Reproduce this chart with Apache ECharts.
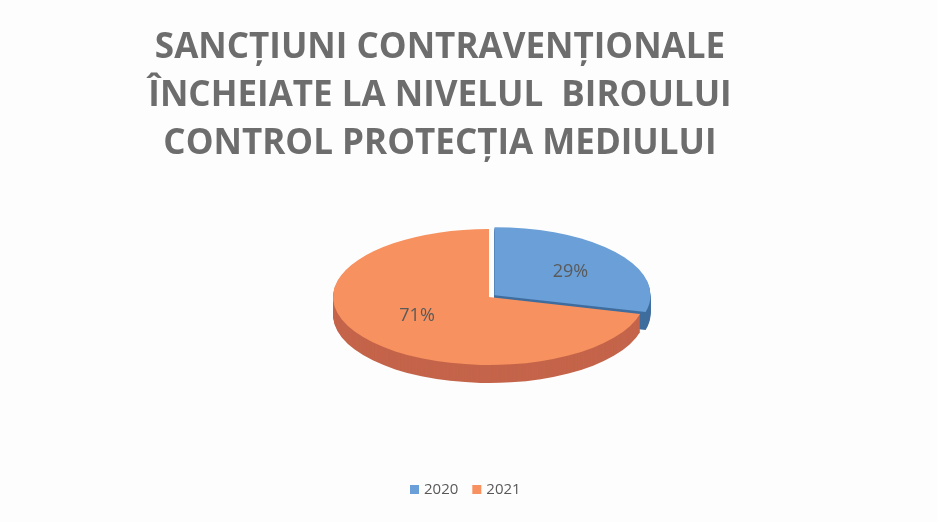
<!DOCTYPE html>
<html lang="ro">
<head>
    <meta charset="UTF-8">
    <title>Sancțiuni contravenționale</title>
    <style>
        html,body{
            margin: 0;
            width: 100%;
            height: 100%;
            background: #fdfdfd;
        }
        #chartmain{
            width: 937px;
            height: 522px;
        }
    </style>
</head>
<body>
<div id="chartmain"></div>
<script src="https://cdn.jsdelivr.net/npm/echarts@6/dist/echarts.min.js"></script>
<script type="text/javascript">
    // date
    var categories = ['2020', '2021'];
    var values = [29, 71];
    var titleLines = ['SANCȚIUNI CONTRAVENȚIONALE', 'ÎNCHEIATE LA NIVELUL  BIROULUI', 'CONTROL PROTECȚIA MEDIULUI'];

    var topColors = ['#6A9FD8', '#F7915F'];
    var sideColors = ['#3F6D9E', '#C4644A'];

    // geometria "3D" a pie-ului
    var CX = 489, CY = 297, RX = 156, RY = 68, DEPTH = 18;
    var SCALE = RY / RX;
    var EXPLODE = [7, 0];

    var total = values.reduce(function (a, b) { return a + b; }, 0);

    function sliceAngles(i) {
        var before = 0;
        for (var k = 0; k < i; k++) before += values[k];
        var start = -Math.PI / 2 + 2 * Math.PI * before / total;
        var end = start + 2 * Math.PI * values[i] / total;
        return [start, end];
    }

    function sliceOffset(i) {
        var a = sliceAngles(i);
        var mid = (a[0] + a[1]) / 2;
        return [EXPLODE[i] * Math.cos(mid), EXPLODE[i] * Math.sin(mid) * SCALE];
    }

    // peretii laterali (se deseneaza primii)
    var sideSeries = {
        type: 'custom',
        coordinateSystem: 'none',
        silent: true,
        data: values.map(function (v, i) { return [i, v]; }),
        renderItem: function (params, api) {
            var i = api.value(0);
            var a = sliceAngles(i);
            var off = sliceOffset(i);
            var children = [];
            for (var k = DEPTH; k >= 1; k--) {
                children.push({
                    type: 'sector',
                    shape: { cx: 0, cy: k / SCALE, r0: 0, r: RX, startAngle: a[0], endAngle: a[1], clockwise: true },
                    style: { fill: sideColors[i] }
                });
            }
            return {
                type: 'group',
                x: CX + off[0],
                y: CY + off[1],
                scaleY: SCALE,
                children: children
            };
        }
    };

    function topSeries(i) {
        return {
            name: categories[i],
            type: 'custom',
            coordinateSystem: 'none',
            itemStyle: { color: topColors[i] },
            data: [[i, values[i]]],
            renderItem: function (params, api) {
                var idx = api.value(0);
                var a = sliceAngles(idx);
                var off = sliceOffset(idx);
                var mid = (a[0] + a[1]) / 2;
                var pct = Math.round(100 * api.value(1) / total) + '%';
                return {
                    type: 'group',
                    children: [{
                        type: 'group',
                        x: CX + off[0],
                        y: CY + off[1],
                        scaleY: SCALE,
                        children: [{
                            type: 'sector',
                            shape: { cx: 0, cy: 0, r0: 0, r: RX, startAngle: a[0], endAngle: a[1], clockwise: true },
                            style: { fill: topColors[idx] }
                        }]
                    }, {
                        type: 'text',
                        x: CX + off[0] + 0.6 * RX * Math.cos(mid) + 2,
                        y: CY + off[1] + 0.5 * RY * Math.sin(mid) - 2,
                        style: {
                            text: pct,
                            fill: '#5a5a5a',
                            font: '18px "Open Sans"',
                            align: 'center',
                            verticalAlign: 'middle'
                        }
                    }]
                };
            }
        };
    }

    var option = {
        backgroundColor: '#fdfdfd',
        animation: false,
        title: {
            text: titleLines.join('\n'),
            left: 435,
            top: 19,
            textAlign: 'center',
            textStyle: {
                fontFamily: 'Open Sans',
                fontWeight: 'bold',
                fontSize: 35,
                lineHeight: 48,
                color: '#6d6d6d'
            }
        },
        legend: {
            data: categories,
            bottom: 20,
            left: 405,
            icon: 'rect',
            itemWidth: 9,
            itemHeight: 9,
            itemGap: 14,
            textStyle: { fontFamily: 'Open Sans', fontSize: 15, color: '#595959' }
        },
        series: [sideSeries, topSeries(0), topSeries(1)]
    };

    var myChart = echarts.init(document.getElementById('chartmain'));
    myChart.setOption(option);
</script>
</body>
</html>
